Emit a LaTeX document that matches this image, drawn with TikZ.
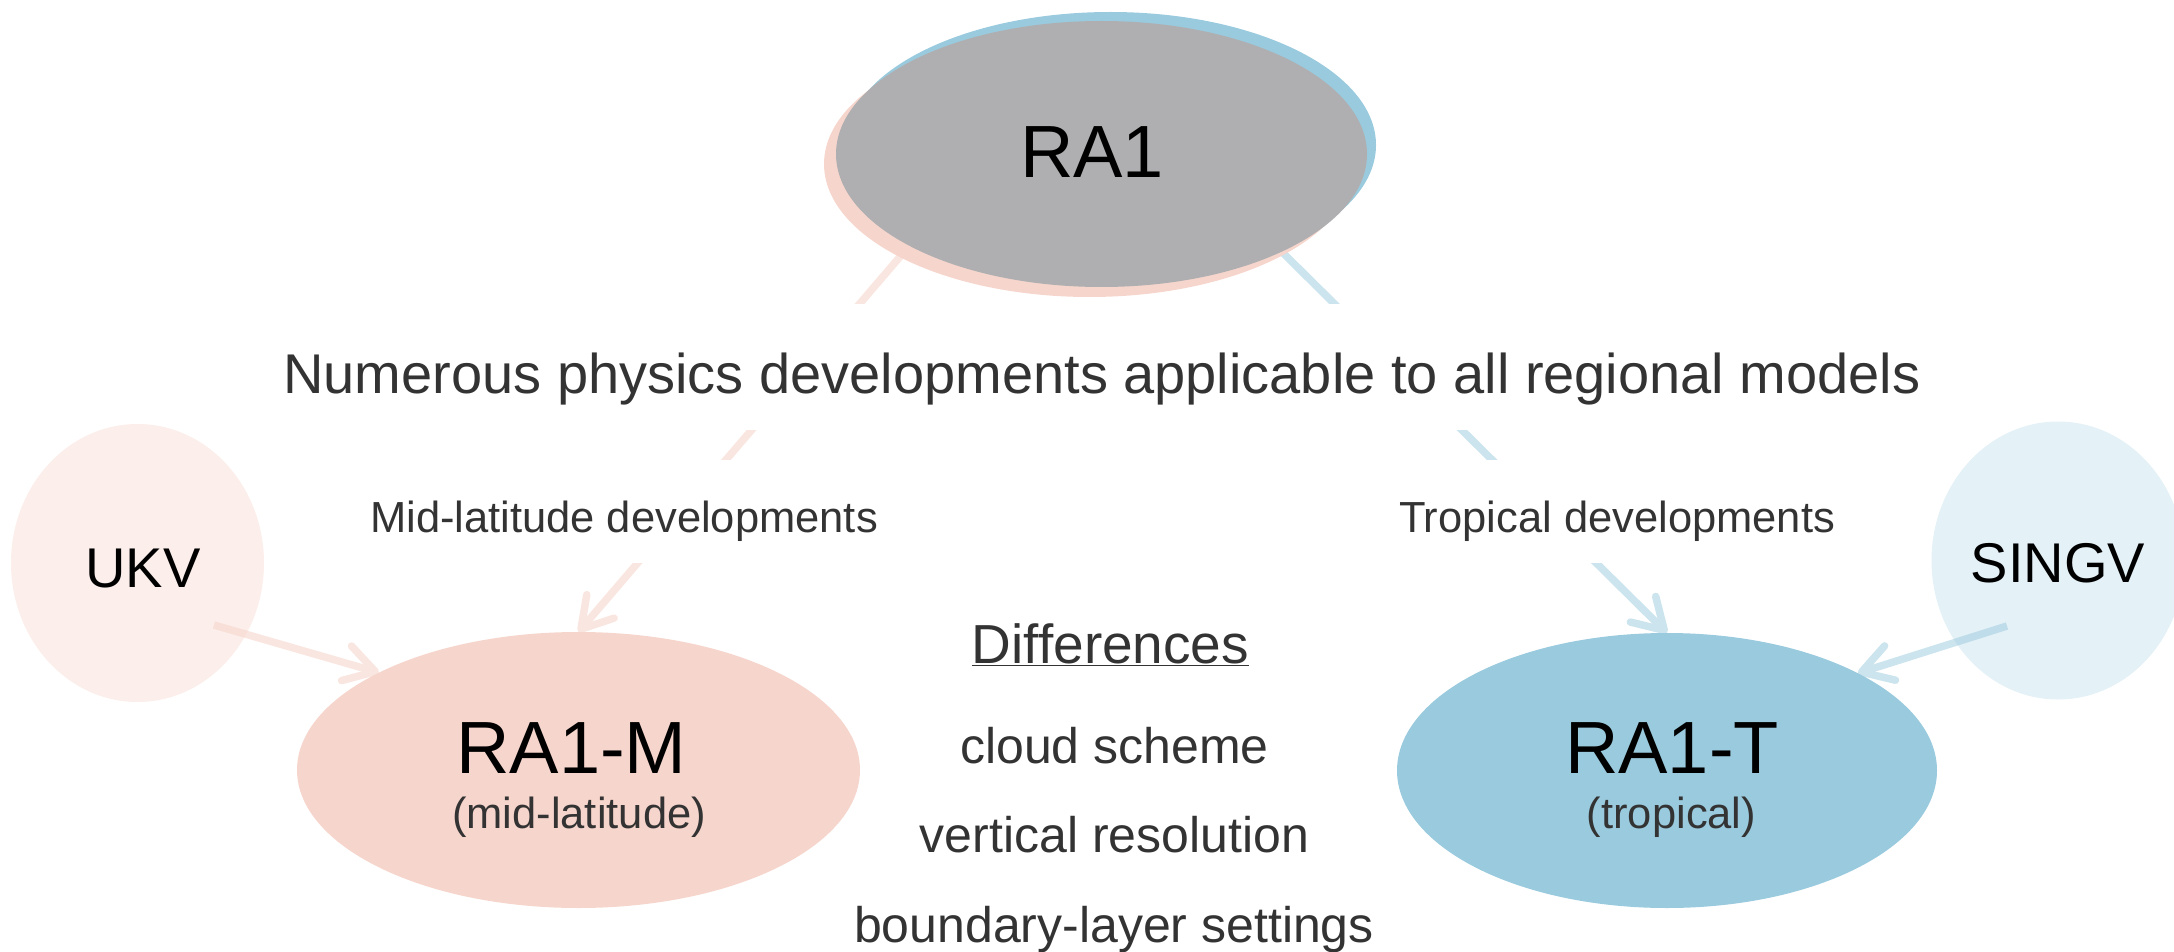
\documentclass[tikz,border=0pt]{standalone}
\usepackage{fontspec}
\setmainfont{Liberation Sans}
\usetikzlibrary{shapes.geometric,arrows.meta}

\definecolor{graycore}{HTML}{AFAFB1}
\definecolor{midpink}{HTML}{F6D5CC}
\definecolor{tropblue}{HTML}{9ACADD}
\definecolor{textdark}{HTML}{333333}

\pgfdeclarelayer{bg}
\pgfsetlayers{bg,main}

\tikzset{
  blob/.style={ellipse, inner sep=0pt, outer sep=0pt, draw=none},
  fs/.style={font=\fontsize{#1}{#1}\selectfont},
  lbl/.style={anchor=base, text=textdark, inner sep=0pt},
  gapbox/.style={fill=white, inner xsep=4pt, inner ysep=0pt},
  link/.style={line width=7.5pt,
    -{Straight Barb[round,length=30pt,width=36pt]}},
  pinklink/.style={link, draw=midpink!60!white},
  bluelink/.style={link, draw=tropblue!50!white},
}

\begin{document}
\begin{tikzpicture}[x=1pt,y=-1pt]
\useasboundingbox (0,0) rectangle (2174,952);

% ---- RA1 with its two coloured shells ----
\node[blob, fill=tropblue, minimum width=531pt, minimum height=266pt] (ra1blue) at (1110.5,145) {};
\node[blob, fill=midpink, minimum width=531pt, minimum height=266pt] (ra1pink) at (1089.5,164) {};
\node[blob, fill=graycore, minimum width=531pt, minimum height=266pt] (ra1) at (1101.5,154) {};
\node[lbl, fs=74, text=black] (ra1txt) at (1092,178) {RA1};

% ---- shared developments ----
\node[lbl, gapbox, fs=56, text height=89pt, text depth=37pt] (allmodels) at (1102,393)
  {Numerous physics developments applicable to all regional models};
\node[lbl, gapbox, fs=43.5, text height=72pt, text depth=31pt] (midlbl) at (624,532)
  {Mid-latitude developments};
\node[lbl, gapbox, fs=43.5, text height=72pt, text depth=31pt] (troplbl) at (1617,532)
  {Tropical developments};

% ---- source models ----
\node[blob, fill=midpink, fill opacity=0.4, minimum width=253pt, minimum height=278pt] (ukv) at (137.5,563) {};
\node[lbl, fs=56, text=black] (ukvtxt) at (143,587) {UKV};
\node[blob, fill=tropblue, fill opacity=0.27, minimum width=253pt, minimum height=278pt] (singv) at (2058,560.5) {};
\node[lbl, fs=56, text=black] (singvtxt) at (2058,582) {SINGV};

% ---- regional configurations ----
\node[blob, fill=midpink, minimum width=563pt, minimum height=276pt] (ra1m) at (578.5,770) {};
\node[lbl, fs=74, text=black] (ra1mtxt) at (571.5,773) {RA1-M};
\node[lbl, fs=43.5] (ra1msub) at (579,828) {(mid-latitude)};

\node[blob, fill=tropblue, minimum width=540pt, minimum height=275pt] (ra1t) at (1667,770.5) {};
\node[lbl, fs=74, text=black] (ra1ttxt) at (1672,773) {RA1-T};
\node[lbl, fs=43.5] (ra1tsub) at (1671.5,828) {(tropical)};

% ---- list of differences ----
\node[lbl, fs=55] (diffhead) at (1110.5,663) {\underline{Differences}};
\node[lbl, fs=50] (diff1) at (1114.5,763) {cloud scheme};
\node[lbl, fs=50] (diff2) at (1114.5,852) {vertical resolution};
\node[lbl, fs=50] (diff3) at (1114,942) {boundary-layer settings};

% ---- connectors ----
\begin{pgfonlayer}{bg}
  \draw[pinklink] ([xshift=-113.5pt]ra1.center) -- (ra1m.north);
  \draw[bluelink] ([xshift=81.5pt]ra1.center) -- (ra1t.north);
  \draw[pinklink] ([xshift=76.5pt,yshift=-62pt]ukv.center) -- (ra1m.154.3);
  \draw[bluelink] ([xshift=-51pt,yshift=-65.5pt]singv.center) -- (ra1t.27);
\end{pgfonlayer}
\end{tikzpicture}
\end{document}
